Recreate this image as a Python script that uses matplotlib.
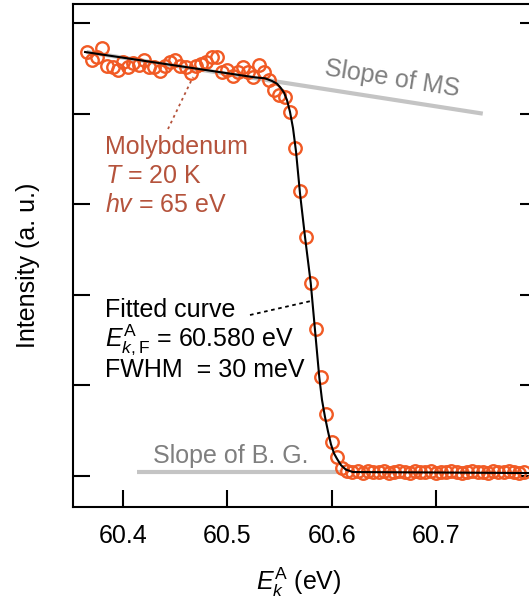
import matplotlib
matplotlib.use("Agg")
import matplotlib.pyplot as plt

plt.rcParams["font.family"] = ["Liberation Sans", "DejaVu Sans"]
plt.rcParams["mathtext.fontset"] = "custom"
plt.rcParams["mathtext.rm"] = "Liberation Sans"
plt.rcParams["mathtext.it"] = "Liberation Sans:italic"
plt.rcParams["mathtext.bf"] = "Liberation Sans:bold"

# measured points (kinetic energy in eV, intensity in arb. units)
energy = [
    60.365, 60.370, 60.375, 60.380, 60.385, 60.390, 60.395, 60.400, 60.405, 60.410,
    60.415, 60.420, 60.425, 60.430, 60.435, 60.440, 60.445, 60.450, 60.455, 60.460,
    60.465, 60.470, 60.475, 60.480, 60.485, 60.490, 60.495, 60.500, 60.505, 60.510,
    60.515, 60.520, 60.525, 60.530, 60.535, 60.540, 60.545, 60.550, 60.555, 60.560,
    60.565, 60.570, 60.575, 60.580, 60.585, 60.590, 60.595, 60.600, 60.605, 60.610,
    60.615, 60.620, 60.625, 60.630, 60.635, 60.640, 60.645, 60.650, 60.655, 60.660,
    60.665, 60.670, 60.675, 60.680, 60.685, 60.690, 60.695, 60.700, 60.705, 60.710,
    60.715, 60.720, 60.725, 60.730, 60.735, 60.740, 60.745, 60.750, 60.755, 60.760,
    60.765, 60.770, 60.775, 60.780, 60.785,
]
intensity = [
    4.68, 4.59, 4.62, 4.72, 4.53, 4.51, 4.48, 4.57, 4.51, 4.56,
    4.54, 4.59, 4.51, 4.51, 4.47, 4.53, 4.57, 4.59, 4.53, 4.51,
    4.45, 4.53, 4.55, 4.57, 4.62, 4.62, 4.46, 4.48, 4.42, 4.46,
    4.51, 4.46, 4.40, 4.54, 4.46, 4.37, 4.26, 4.21, 4.18, 4.02,
    3.62, 3.15, 2.64, 2.13, 1.62, 1.09, 0.68, 0.38, 0.21, 0.09,
    0.06, 0.04, 0.05, 0.03, 0.05, 0.04, 0.04, 0.05, 0.03, 0.04,
    0.05, 0.04, 0.03, 0.05, 0.04, 0.04, 0.05, 0.03, 0.04, 0.04,
    0.05, 0.04, 0.03, 0.04, 0.05, 0.04, 0.04, 0.03, 0.05, 0.04,
    0.04, 0.05, 0.04, 0.03, 0.04,
]

# fitted Fermi edge
fit_energy = [
    60.3636, 60.4451, 60.5266, 60.5361, 60.5429, 60.5477, 60.5515, 60.5544,
    60.5572, 60.5601, 60.5630, 60.5659, 60.5697, 60.5745, 60.5800, 60.5841,
    60.5882, 60.5908, 60.5937, 60.5966, 60.5994, 60.6023, 60.6052, 60.6090,
    60.6138, 60.6205, 60.7890,
]
fit_intensity = [
    4.68, 4.54, 4.40, 4.39, 4.36, 4.33, 4.28, 4.23,
    4.15, 4.02, 3.84, 3.58, 3.12, 2.64, 2.13, 1.61,
    1.09, 0.84, 0.65, 0.49, 0.35, 0.25, 0.19, 0.12,
    0.07, 0.044, 0.033,
]

# guide lines
ms_slope_x = [60.365, 60.745]
ms_slope_y = [4.68, 4.00]
bg_slope_x = [60.4136, 60.610]
bg_slope_y = [0.047, 0.047]

xticks = [60.4, 60.5, 60.6, 60.7]
xtick_labels = ["60.4", "60.5", "60.6", "60.7"]
yticks = [0, 1, 2, 3, 4, 5]

W, H = 529, 603
fig = plt.figure(figsize=(W / 100, H / 100), dpi=100)
ax = fig.add_axes([73 / W, 1 - 507 / H, 464 / W, 503 / H])

data_col = "#f15a24"
text_red = "#b5533c"
gray_line = "#c4c4c4"
gray_text = "#7f7f7f"

ax.plot(ms_slope_x, ms_slope_y, color=gray_line, lw=3, solid_capstyle="butt", zorder=1)
ax.plot(bg_slope_x, bg_slope_y, color=gray_line, lw=3, solid_capstyle="butt", zorder=1)
ax.plot(energy, intensity, "o", ms=9, mfc="none", mec=data_col, mew=1.7, zorder=2,
        clip_on=False)
ax.plot(fit_energy, fit_intensity, color="black", lw=1.5, zorder=3)

ax.set_xlim(60.352, 60.797)
ax.set_ylim(-0.342, 5.21)
ax.set_xticks(xticks)
ax.set_xticklabels(xtick_labels)
ax.set_yticks(yticks)
ax.set_yticklabels([])
ax.tick_params(direction="in", length=12, width=1.5, labelsize=18, pad=12,
               left=True, right=True, bottom=True, top=False)
for s in ax.spines.values():
    s.set_linewidth(1.5)


def fx(px):
    return (px - 73) / 464


def fy(py):
    return (507 - py) / 503


tr = ax.transAxes
fs = 18

# Molybdenum annotation
ax.text(fx(105), fy(154), "Molybdenum", color=text_red, fontsize=fs, transform=tr, va="baseline")
ax.text(fx(105), fy(183), "$T$ = 20 K", color=text_red, fontsize=fs, transform=tr, va="baseline")
ax.text(fx(105), fy(212), "$hv$ = 65 eV", color=text_red, fontsize=fs, transform=tr, va="baseline")
ax.plot([fx(168), fx(193)], [fy(129), fy(77)], transform=tr, color=text_red,
        lw=1.3, ls=(0, (1.5, 2)), zorder=1)

# fit annotation
ax.text(fx(105), fy(317), "Fitted curve", color="black", fontsize=fs, transform=tr, va="baseline")
ax.text(fx(105), fy(346), r"$E_{k,\mathrm{F}}^{\mathrm{A}}$ = 60.580 eV", color="black",
        fontsize=fs, transform=tr, va="baseline")
ax.text(fx(105), fy(377), "FWHM  = 30 meV", color="black", fontsize=fs, transform=tr, va="baseline")
ax.plot([fx(250), fx(311)], [fy(315), fy(301)], transform=tr, color="black",
        lw=1.3, ls=(0, (2, 2)), zorder=4)

# slope labels
ax.text(fx(392), fy(79), "Slope of MS", color=gray_text, fontsize=fs, transform=tr,
        ha="center", va="center", rotation=-9, rotation_mode="anchor")
ax.text(fx(153), fy(463), "Slope of B. G.", color=gray_text, fontsize=fs, transform=tr,
        va="baseline")

fig.text(299 / W, 1 - 590 / H, r"$E_k^{\mathrm{A}}$ (eV)", fontsize=fs, ha="center", va="baseline")
fig.text(28 / W, 1 - 265 / H, "Intensity (a. u.)", fontsize=fs, rotation=90,
         ha="center", va="center")

fig.savefig("out.png", dpi=100)
